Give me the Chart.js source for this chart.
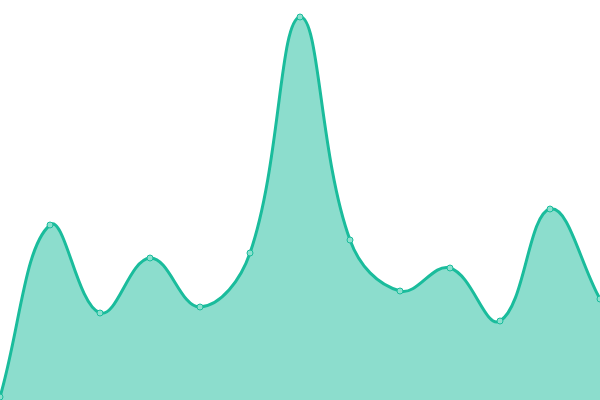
<!DOCTYPE html>
<html>
<head>
<meta charset="utf-8">
<script src="https://cdn.jsdelivr.net/npm/chart.js@4/dist/chart.umd.min.js"></script>
<style>
  html, body { margin: 0; padding: 0; background: #fff; }
  #wrap { width: 600px; height: 400px; }
</style>
</head>
<body>
<div id="wrap"><canvas id="myChart"></canvas></div>
<script>
// data
const labels = ['1', '2', '3', '4', '5', '6', '7', '8', '9', '10', '11', '12', '13'];
const values = [0.75, 43.75, 21.75, 35.5, 23.25, 36.75, 95.75, 40, 27.25, 33, 19.75, 47.75, 25.25];
const yMin = 0;
const yMax = 100;

const ctx = document.getElementById('myChart').getContext('2d');

let areaChart = new Chart(ctx, {
    type: 'line',
    data: {
        labels: labels,
        datasets: [{
            data: values,
            fill: true,
            tension: 0.4,
            borderWidth: 3,
            borderColor: '#1abc9c',
            backgroundColor: 'rgba(26, 188, 156, 0.5)',
            pointRadius: 3,
            pointBorderWidth: 1,
            pointBackgroundColor: '#8ce0ce',
            pointBorderColor: '#1abc9c'
        }]
    },
    options: {
        responsive: true,
        maintainAspectRatio: false,
        animation: false,
        layout: { padding: 0, autoPadding: false },
        plugins: {
            legend: { display: false },
            tooltip: { enabled: false }
        },
        scales: {
            x: { display: false, offset: false },
            y: { display: false, min: yMin, max: yMax }
        }
    }
});
</script>
</body>
</html>
